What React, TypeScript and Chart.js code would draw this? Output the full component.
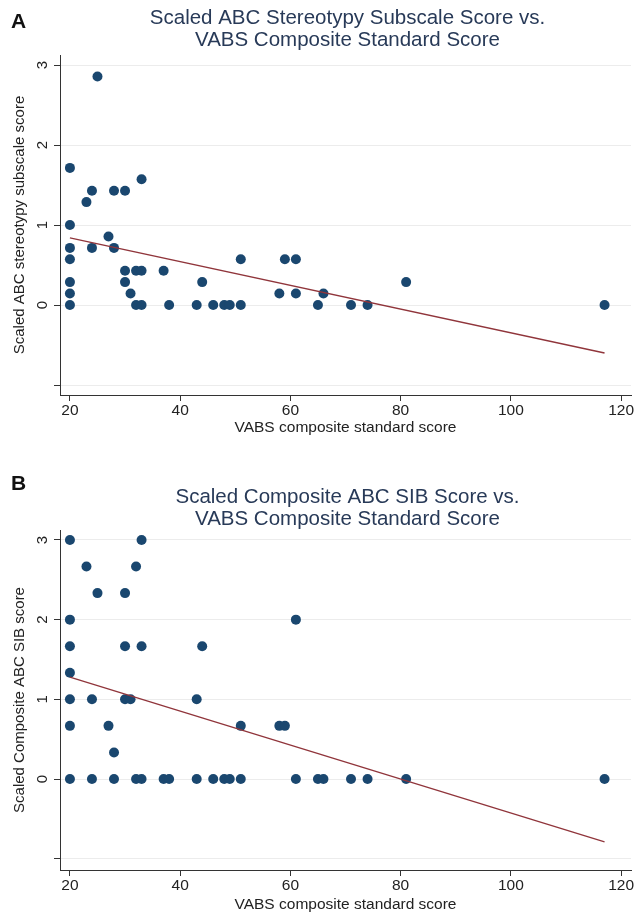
import React, { useEffect, useRef } from "react";
import { Chart, registerables } from "chart.js";

Chart.register(...registerables);

const FONT = '"Liberation Sans", Arial, Helvetica, sans-serif';

// ---- shared axis ticks ----
const xTickValues = [20, 40, 60, 80, 100, 120];
const yTickValues = [-1, 0, 1, 2, 3];
const yTickLabels = ["", "0", "1", "2", "3"];
const xAxisTitle = "VABS composite standard score";

// ---- Panel A: Stereotypy ----
const titleA = ["Scaled ABC Stereotypy Subscale Score vs.", "VABS Composite Standard Score"];
const yTitleA = "Scaled ABC stereotypy subscale score";
const vabsA = [
  25, 20, 24, 23, 28, 30, 33, 20, 27, 20, 24, 28, 20, 51, 59, 61, 30, 32, 33, 37,
  20, 30, 44, 81, 20, 31, 58, 61, 66,
  20, 32, 33, 38, 43, 46, 48, 49, 51, 65, 71, 74, 117,
];
const stereoA = [
  2.857, 1.714, 1.429, 1.286, 1.429, 1.429, 1.571, 1.0, 0.857, 0.714, 0.714, 0.714,
  0.571, 0.571, 0.571, 0.571, 0.429, 0.429, 0.429, 0.429,
  0.286, 0.286, 0.286, 0.286, 0.143, 0.143, 0.143, 0.143, 0.143,
  0, 0, 0, 0, 0, 0, 0, 0, 0, 0, 0, 0, 0,
];
const fitXA = [20, 117];
const fitYA = [0.84, -0.6];

// ---- Panel B: SIB ----
const titleB = ["Scaled Composite ABC SIB Score vs.", "VABS Composite Standard Score"];
const yTitleB = "Scaled Composite ABC SIB score";
const vabsB = [
  20, 33, 23, 32, 25, 30, 20, 61, 20, 30, 33, 44, 20,
  20, 24, 30, 31, 43, 20, 27, 51, 58, 59, 28,
  20, 24, 28, 32, 33, 37, 38, 43, 46, 48, 49, 51, 61, 65, 66, 71, 74, 81, 117,
];
const sibB = [
  3, 3, 2.667, 2.667, 2.333, 2.333, 2, 2, 1.667, 1.667, 1.667, 1.667, 1.333,
  1, 1, 1, 1, 1, 0.667, 0.667, 0.667, 0.667, 0.667, 0.333,
  0, 0, 0, 0, 0, 0, 0, 0, 0, 0, 0, 0, 0, 0, 0, 0, 0, 0, 0,
];
const fitXB = [20, 117];
const fitYB = [1.28, -0.79];

type PanelProps = {
  letter: string;
  title: string[];
  yTitle: string;
  xs: number[];
  ys: number[];
  fitX: number[];
  fitY: number[];
  height: number;
  areaTop: number;
  areaBottom: number;
  yMin: number;
  yMax: number;
  letterBase: number;
  titleBase: number;
  xTitlePad: number;
};

const textPlugin = {
  id: "panelText",
  afterDraw(chart: any) {
    const { ctx, chartArea, scales } = chart;
    const o = chart.options.plugins.panelText;
    ctx.save();
    ctx.fillStyle = "#111";
    ctx.font = `bold 21px ${FONT}`;
    ctx.textAlign = "left";
    ctx.textBaseline = "alphabetic";
    ctx.fillText(o.letter, 11, o.letterBase);
    ctx.fillStyle = "#283a58";
    ctx.font = `20.5px ${FONT}`;
    ctx.textAlign = "center";
    const cx = (chartArea.left + chartArea.right) / 2 + 2;
    o.title.forEach((t: string, i: number) => ctx.fillText(t, cx, o.titleBase + i * 22));
    const ysc = scales.y;
    ctx.fillStyle = "#222";
    ctx.font = `15px ${FONT}`;
    yTickValues.forEach((v, i) => {
      const py = ysc.getPixelForValue(v);
      ctx.save();
      ctx.translate(chartArea.left - 13, py);
      ctx.rotate(-Math.PI / 2);
      ctx.textAlign = "center";
      ctx.textBaseline = "alphabetic";
      ctx.fillText(yTickLabels[i], 0, 0);
      ctx.restore();
    });
    ctx.restore();
  },
};

function Panel(p: PanelProps) {
  const ref = useRef<HTMLCanvasElement | null>(null);
  useEffect(() => {
    if (!ref.current) return;
    const pts = p.xs.map((x, i) => ({ x, y: p.ys[i] }));
    const fit = p.fitX.map((x, i) => ({ x, y: p.fitY[i] }));
    const chart = new Chart(ref.current, {
      type: "scatter",
      data: {
        datasets: [
          {
            type: "line",
            data: fit,
            borderColor: "#90353b",
            borderWidth: 1.3,
            pointRadius: 0,
            showLine: true,
            fill: false,
            order: 0,
          } as any,
          {
            data: pts,
            backgroundColor: "#1a476f",
            borderColor: "#1a476f",
            borderWidth: 0,
            pointRadius: 5,
            order: 1,
          },
        ],
      },
      options: {
        animation: false,
        responsive: false,
        devicePixelRatio: 1,
        layout: { padding: { left: 0, right: 13, top: p.areaTop, bottom: 0 } },
        plugins: {
          legend: { display: false },
          tooltip: { enabled: false },
          title: { display: false },
          panelText: {
            letter: p.letter,
            title: p.title,
            letterBase: p.letterBase,
            titleBase: p.titleBase,
          },
        } as any,
        scales: {
          x: {
            type: "linear",
            min: 18.2,
            max: 121.8,
            afterBuildTicks: (s: any) => {
              s.ticks = xTickValues.map((v) => ({ value: v }));
            },
            afterFit: (s: any) => {
              s.height = p.height - p.areaBottom;
            },
            grid: { drawOnChartArea: false, drawTicks: true, tickLength: 6, tickColor: "#333" },
            border: { display: true, color: "#333", width: 1 },
            ticks: {
              font: { family: FONT, size: 15.5 },
              color: "#222",
              padding: 0,
              maxRotation: 0,
              autoSkip: false,
            },
            title: {
              display: true,
              text: xAxisTitle,
              font: { family: FONT, size: 15.5 },
              color: "#222",
              padding: { top: 0, bottom: p.xTitlePad },
            },
          },
          y: {
            type: "linear",
            min: p.yMin,
            max: p.yMax,
            afterBuildTicks: (s: any) => {
              s.ticks = yTickValues.map((v) => ({ value: v }));
            },
            afterFit: (s: any) => {
              s.width = 60;
            },
            grid: { color: "#ececec", lineWidth: 1, drawTicks: true, tickLength: 6, tickColor: "#333" },
            border: { display: true, color: "#333", width: 1 },
            ticks: { display: false },
            title: {
              display: true,
              text: p.yTitle,
              font: { family: FONT, size: 15 },
              color: "#222",
              padding: { top: 11, bottom: 0 },
            },
          },
        },
      },
      plugins: [textPlugin],
    } as any);
    return () => chart.destroy();
  }, []);
  return <canvas ref={ref} width={644} height={p.height} style={{ display: "block", width: 644, height: p.height }} />;
}

export default function App() {
  return (
    <div style={{ position: "absolute", left: 0, top: 0, width: 644, height: 914, background: "#fff" }}>
      <Panel
        letter="A"
        title={titleA}
        yTitle={yTitleA}
        xs={vabsA}
        ys={stereoA}
        fitX={fitXA}
        fitY={fitYA}
        height={460}
        areaTop={55}
        areaBottom={395}
        yMin={-1.125}
        yMax={3.125}
        letterBase={28}
        titleBase={24}
        xTitlePad={23}
      />
      <Panel
        letter="B"
        title={titleB}
        yTitle={yTitleB}
        xs={vabsB}
        ys={sibB}
        fitX={fitXB}
        fitY={fitYB}
        height={454}
        areaTop={70}
        areaBottom={410}
        yMin={-1.142}
        yMax={3.125}
        letterBase={30}
        titleBase={43}
        xTitlePad={0}
      />
    </div>
  );
}
